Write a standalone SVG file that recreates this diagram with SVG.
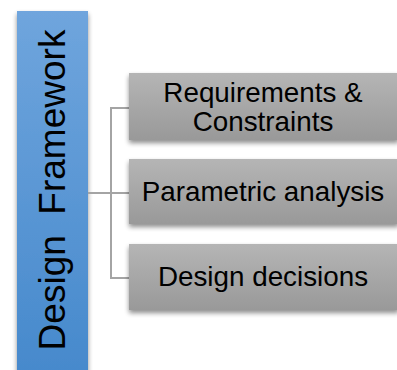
<svg xmlns="http://www.w3.org/2000/svg" width="397" height="370" viewBox="0 0 397 370">
  <defs>
    <linearGradient id="barFill" x1="0" y1="0" x2="0" y2="1">
      <stop offset="0" stop-color="#6fa5dd"/>
      <stop offset="1" stop-color="#4689cc"/>
    </linearGradient>
    <linearGradient id="boxFill" x1="0" y1="0" x2="0" y2="1">
      <stop offset="0" stop-color="#b5b5b5"/>
      <stop offset="1" stop-color="#999999"/>
    </linearGradient>
    <filter id="shadow" x="-10%" y="-20%" width="120%" height="150%">
      <feGaussianBlur in="SourceAlpha" stdDeviation="2.5"/>
      <feOffset dx="0" dy="3" result="b"/>
      <feComponentTransfer><feFuncA type="linear" slope="0.45"/></feComponentTransfer>
      <feMerge><feMergeNode/><feMergeNode in="SourceGraphic"/></feMerge>
    </filter>
  </defs>
  <style>
    .box { fill: url(#boxFill); filter: url(#shadow); }
    .lbl { font-family: "Liberation Sans", Arial, sans-serif; font-size: 27.8px; fill: #000; text-anchor: middle; }
    .conn { fill: none; stroke: #a4a4a4; stroke-width: 2; }
  </style>

  <rect width="397" height="370" fill="#ffffff"/>

  <g id="design-framework">
    <rect x="17" y="11" width="71" height="365" fill="url(#barFill)" filter="url(#shadow)"/>
    <text class="lbl" style="font-size:37px" xml:space="preserve" transform="translate(64.5,190) rotate(-90)">Design  Framework</text>
  </g>

  <g id="connectors">
    <path class="conn" d="M88 193 H111 M129 108 H111 V278 H129 M111 193 H129"/>
  </g>

  <g id="requirements">
    <rect class="box" x="129" y="73" width="270" height="67"/>
    <text class="lbl" x="263" y="102">Requirements &amp;</text>
    <text class="lbl" x="263" y="131">Constraints</text>
  </g>

  <g id="parametric">
    <rect class="box" x="129" y="159" width="270" height="65"/>
    <text class="lbl" x="263" y="201">Parametric analysis</text>
  </g>

  <g id="decisions">
    <rect class="box" x="129" y="244" width="270" height="66"/>
    <text class="lbl" x="263" y="286">Design decisions</text>
  </g>
</svg>
